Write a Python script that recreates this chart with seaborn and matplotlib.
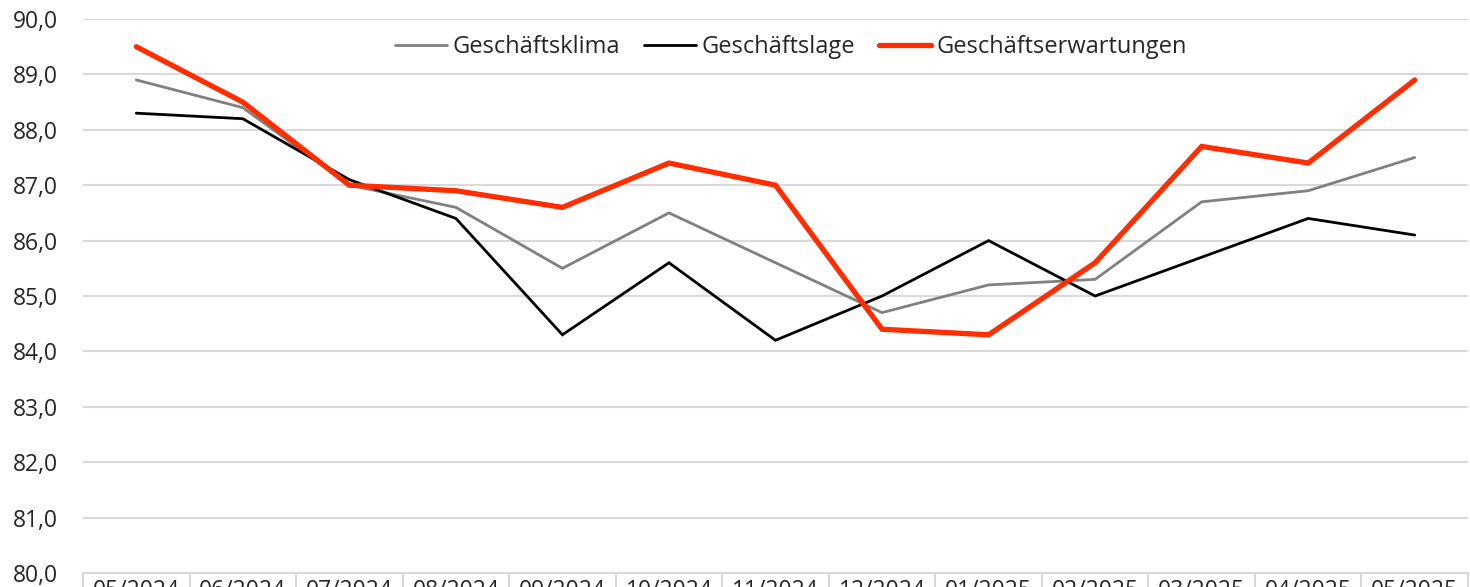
import matplotlib
matplotlib.use("Agg")
import matplotlib.pyplot as plt
import matplotlib.ticker as mticker
import seaborn as sns
import pandas as pd

months = ["05/2024", "06/2024", "07/2024", "08/2024", "09/2024", "10/2024", "11/2024",
          "12/2024", "01/2025", "02/2025", "03/2025", "04/2025", "05/2025"]
klima = [88.9, 88.4, 87.0, 86.6, 85.5, 86.5, 85.6, 84.7, 85.2, 85.3, 86.7, 86.9, 87.5]
lage = [88.3, 88.2, 87.1, 86.4, 84.3, 85.6, 84.2, 85.0, 86.0, 85.0, 85.7, 86.4, 86.1]
erwartungen = [89.5, 88.5, 87.0, 86.9, 86.6, 87.4, 87.0, 84.4, 84.3, 85.6, 87.7, 87.4, 88.9]

series = {
    "Geschäftsklima": (klima, "#808080", 2.0),
    "Geschäftslage": (lage, "#000000", 2.0),
    "Geschäftserwartungen": (erwartungen, "#ff2d00", 3.8),
}

sns.set_style("white")
plt.rcParams["font.family"] = ["Open Sans", "DejaVu Sans"]

fig = plt.figure(figsize=(14.7, 5.87), dpi=100)
ax = fig.add_axes([83 / 1470, 14 / 587, 1385 / 1470, 554 / 587])

pos = list(range(len(months)))
for name, (vals, color, lw) in series.items():
    df = pd.DataFrame({"pos": pos, "value": vals})
    sns.lineplot(data=df, x="pos", y="value", ax=ax, color=color, linewidth=lw,
                 label=name, solid_capstyle="round", solid_joinstyle="miter")

ax.set_xlim(-0.5, len(months) - 0.5)
ax.set_ylim(80, 90)
ax.set_yticks(range(80, 91))
ax.yaxis.set_major_formatter(mticker.FuncFormatter(lambda v, p: f"{v:.1f}".replace(".", ",")))
ax.set_xticks(pos)
ax.set_xticklabels(months)
ax.set_xticks([p - 0.5 for p in range(len(months) + 1)], minor=True)
ax.tick_params(axis="x", which="major", bottom=False, length=0, pad=4, labelsize=16.5)
ax.tick_params(axis="x", which="minor", bottom=True, length=14, width=1.5, color="#d9d9d9")
ax.tick_params(axis="y", length=0, pad=18, labelsize=16.5)
ax.set_xlabel("")
ax.set_ylabel("")

ax.grid(axis="y", color="#d9d9d9", linewidth=1.5)
ax.set_axisbelow(True)
for side in ["top", "right", "left"]:
    ax.spines[side].set_visible(False)
ax.spines["bottom"].set_color("#d9d9d9")
ax.spines["bottom"].set_linewidth(1.5)

leg = ax.legend(loc="center", bbox_to_anchor=(0.511, 0.949), ncol=3, frameon=False,
                fontsize=17, handlelength=2.2, handletextpad=0.25, columnspacing=1.0)

fig.savefig("out.png", dpi=100)
